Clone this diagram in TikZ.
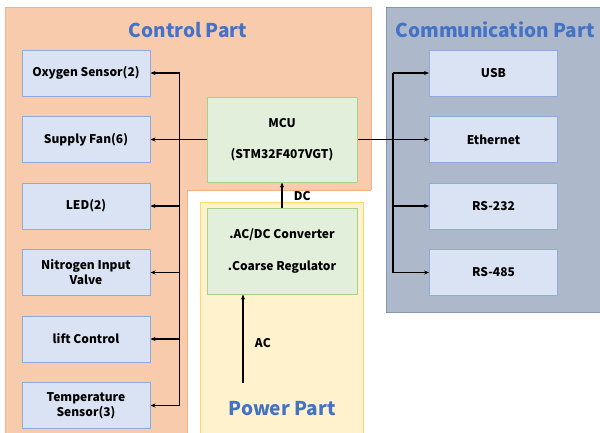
\documentclass[tikz,border=0pt]{standalone}
\usepackage{fontspec}
\setmainfont{Noto Sans CJK KR}
\usepackage{tikz}
\usetikzlibrary{positioning,arrows.meta}
\usepackage{xcolor}
\definecolor{ctrlfill}{HTML}{F8CBAD}
\definecolor{ctrlline}{HTML}{F4B183}
\definecolor{pwrfill}{HTML}{FFF2CC}
\definecolor{pwrline}{HTML}{FFD966}
\definecolor{comfill}{HTML}{ADB9CA}
\definecolor{comline}{HTML}{8497B0}
\definecolor{blkfill}{HTML}{DAE3F3}
\definecolor{blkline}{HTML}{8FAADC}
\definecolor{corefill}{HTML}{E2EFDA}
\definecolor{coreline}{HTML}{A9D18E}
\definecolor{titleblue}{HTML}{4472C4}
\tikzset{
  >=Stealth,
}

\begin{document}
\begin{tikzpicture}[x=1pt, y=-1pt,
  blk/.style={draw=blkline, fill=blkfill, line width=1pt, minimum width=128pt, minimum height=46pt, align=center, font=\bfseries\fontsize{12}{14}\selectfont},
  core/.style={draw=coreline, fill=corefill, line width=1pt, minimum width=150pt, align=center, font=\bfseries\fontsize{12}{14}\selectfont},
  arr/.style={-{Stealth[length=5pt, width=4pt]}, line width=1.3pt},
  bus/.style={line width=1.3pt},
  title/.style={font=\bfseries\fontsize{19}{22}\selectfont, text=titleblue}
]
  \useasboundingbox (0,0) rectangle (600,432);
  % part areas
  \fill[ctrlfill, draw=ctrlline] (5,7) rectangle (371,450);
  \fill[white] (187,190) rectangle (380,450);
  \draw[ctrlline] (187,450) -- (187,190) -- (371,190);
  \fill[pwrfill, draw=pwrline, line width=1pt] (200.5,202) rectangle (363,450);
  \fill[comfill, draw=comline, line width=1pt] (386,7) rectangle (620,312);
  \node[title] (ctrltitle) at (188,30) {Control Part};
  \node[title] (comtitle) at (495,30) {Communication Part};
  \node[title] (pwrtitle) at (282,409) {Power Part};

  % control side
  \node[blk] (oxy) at (86,73) {Oxygen Sensor(2)};
  \node[blk, below=19.5pt of oxy] (fan) {Supply Fan(6)};
  \node[blk, below=19.5pt of fan] (led) {LED(2)};
  \node[blk, below=19.5pt of led] (nit) {Nitrogen Input\\[1pt]Valve};
  \node[blk, below=19.5pt of nit] (lift) {lift Control};
  \node[blk, below=19.5pt of lift] (temp) {Temperature\\[1pt]Sensor(3)};

  \node[core, minimum height=85pt] (mcu) at (282,139.5) {MCU\\[17pt](STM32F407VGT)};
  \node[core, minimum height=86pt, below=25pt of mcu] (conv) {.AC/DC Converter\\[18pt].Coarse Regulator};

  % communication side
  \node[blk] (usb) at (493.5,73) {USB};
  \node[blk, below=19.5pt of usb] (eth) {Ethernet};
  \node[blk, below=19.5pt of eth] (rs232) {RS-232};
  \node[blk, below=19.5pt of rs232] (rs485) {RS-485};

  % buses
  \coordinate[right=29pt of oxy.east] (lbus);
  \coordinate[left=36pt of usb.west] (rbus);
  \draw[bus] (lbus) -- (lbus |- temp.east);
  \draw[bus] (mcu.west) -- (lbus |- mcu.west);
  \foreach \n in {oxy,fan,led,nit,lift,temp}
    \draw[arr] (lbus |- \n.east) -- (\n.east);
  \draw[bus] (rbus) -- (rbus |- rs485.west);
  \draw[bus] (mcu.east) -- (rbus |- mcu.east);
  \foreach \n in {usb,eth,rs232,rs485}
    \draw[arr] (rbus |- \n.west) -- (\n.west);

  % power
  \draw[arr] (conv.north) -- node[right=8pt, pos=0.45, font=\bfseries\fontsize{12}{14}\selectfont] (dclabel) {DC} (mcu.south);
  \coordinate (acin) at (243,383);
  \draw[arr] (acin) -- node[right=8pt, pos=0.45, font=\bfseries\fontsize{12}{14}\selectfont] (aclabel) {AC} (conv.south -| acin);
\end{tikzpicture}
\end{document}
